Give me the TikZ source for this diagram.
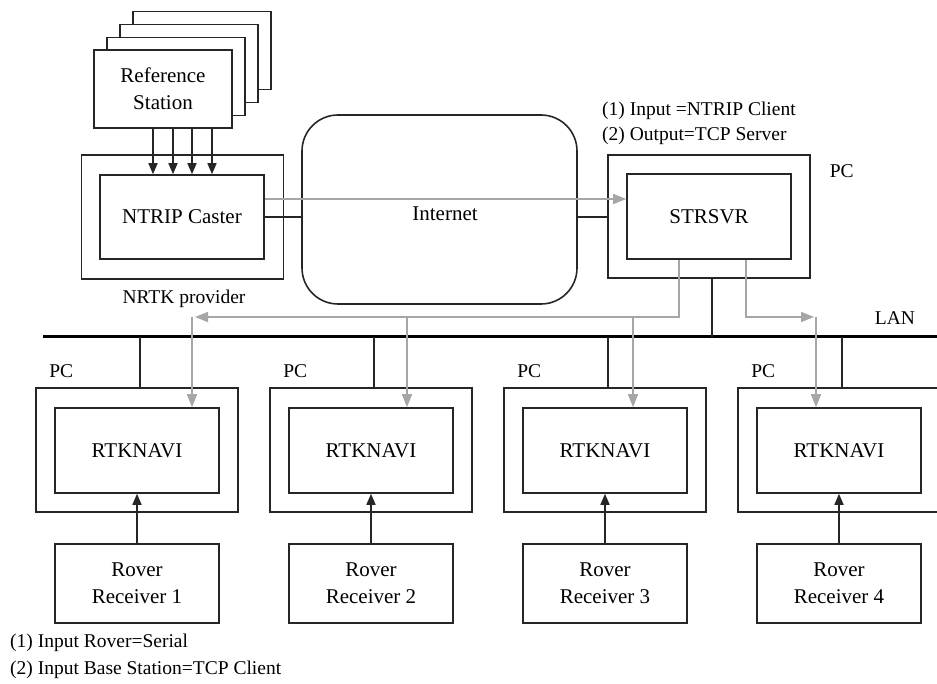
\documentclass[tikz,border=0pt]{standalone}
\usepackage{fontspec}
\setmainfont{Liberation Serif}
\usetikzlibrary{arrows.meta}
\begin{document}
\begin{tikzpicture}[x=1pt,y=-1pt,
  lbl/.style={font=\fontsize{21}{27}\selectfont, align=center},
  boxs/.style={draw=black!85, line width=1.6pt, inner sep=0pt, fill=white, lbl},
  ann/.style={font=\fontsize{19.5}{24}\selectfont, inner sep=0pt},
  blk/.style={draw=black!85, line width=1.6pt},
  barr/.style={blk, -{Triangle[length=11pt,width=9pt]}},
  gline/.style={draw=black!35, line width=1.6pt},
  garr/.style={gline, -{Triangle[length=13pt,width=10pt]}},
  outerbox/.style={boxs, minimum width=202pt, minimum height=124pt},
  innerbox/.style={boxs, minimum width=164pt, minimum height=85pt},
  rovbox/.style={boxs, minimum width=164pt, minimum height=79pt},
  refbox/.style={boxs, minimum width=138pt, minimum height=78pt}]
\useasboundingbox (0,0) rectangle (937,684);
\clip (0,0) rectangle (937,684);

% Reference station stack
\node[refbox] (ref4) at (202,50.5) {};
\node[refbox] (ref3) at (189,63.5) {};
\node[refbox] (ref2) at (176,76.5) {};
\node[refbox] (ref1) at (163,89) {Reference\\Station};

% NTRIP caster
\node[outerbox] (provider) at (182.5,217) {};
\node[innerbox, minimum height=84pt] (caster) at (182,217) {NTRIP Caster};
\node[ann] (nrtk) at (184,299) {NRTK provider};
\foreach \i/\dx in {1/-29,2/-9,3/10,4/30}{
  \coordinate (t\i) at ([xshift=\dx pt]caster.north);
  \draw[barr] (t\i |- ref1.south) -- (t\i);
}

% Internet
\node[boxs, rounded corners=36pt, minimum width=275pt, minimum height=189pt] (inet) at (439.5,209.5) {};
\node[lbl, inner sep=0pt] (inettext) at (445,214) {Internet};

% STRSVR
\node[outerbox, minimum height=123pt] (strout) at (709,216.5) {};
\node[innerbox] (strsvr) at (709,216.5) {STRSVR};
\node[ann] (pc0) at ([xshift=31pt,yshift=-17pt]strout.north east) {PC};
\node[ann, anchor=west] (ann1) at (602,111) {(1) Input =NTRIP Client};
\node[ann, anchor=west] (ann2) at (602,136) {(2) Output=TCP Server};

\draw[blk] (caster.east) -- (caster.east -| inet.west);
\draw[blk] (inet.east |- caster.east) -- (caster.east -| strout.west);
\draw[garr] ([yshift=18pt]caster.east) -- ([yshift=18pt]caster.east -| strsvr.west);

% LAN
\coordinate (lanL) at (43,337);
\coordinate (lanR) at (937,337);
\draw[draw=black, line width=3pt] (lanL) -- (lanR);
\node[ann] (lan) at (895,318) {LAN};
\draw[blk] ([xshift=3pt]strout.south) -- ([xshift=3pt]strout.south |- lanL);

% PCs and rovers
\foreach \i/\cx in {1/137,2/371,3/605,4/839}{
  \node[outerbox] (pc\i) at (\cx,450) {};
  \node[innerbox] (rtk\i) at (\cx,450.5) {RTKNAVI};
  \node[ann] (pcl\i) at ([xshift=26pt,yshift=16pt]pc\i.north west) {PC};
  \node[rovbox] (rov\i) at (\cx,583.5) {Rover\\Receiver \i};
  \draw[barr] (rov\i.north) -- (rtk\i.south);
  \draw[blk] ([xshift=3pt]pc\i.north) -- ([xshift=3pt]pc\i.north |- lanL);
}

% gray distribution lines
\coordinate (sL) at ([xshift=-30pt]strsvr.south);
\coordinate (sR) at ([xshift=37pt]strsvr.south);
\coordinate (eL) at (195,317);
\coordinate (eR) at (814,317);
\draw[garr] (sL) |- (eL);
\draw[garr] (sR) |- (eR);
\foreach \i/\vx in {1/192,2/407,3/633,4/816}{
  \coordinate (v\i) at (\vx,317);
  \draw[garr] (v\i) -- (v\i |- rtk\i.north);
}

% bottom notes
\node[ann, anchor=west] (note1) at (10,643) {(1) Input Rover=Serial};
\node[ann, anchor=west] (note2) at (10,670) {(2) Input Base Station=TCP Client};
\end{tikzpicture}
\end{document}
